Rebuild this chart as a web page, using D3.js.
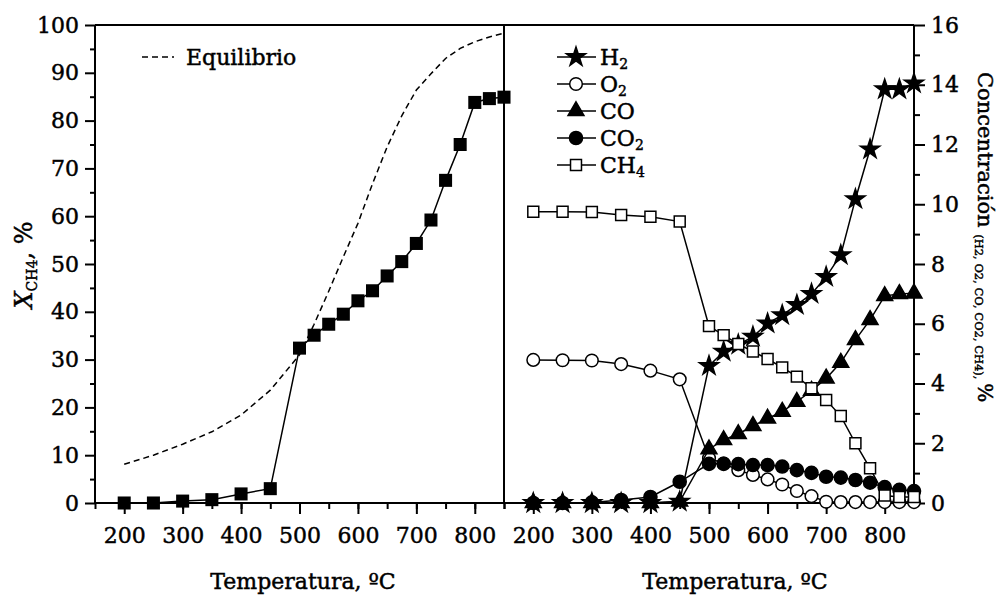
<!DOCTYPE html>
<html>
<head>
<meta charset="utf-8">
<script src="https://cdn.jsdelivr.net/npm/d3@7/dist/d3.min.js"></script>
<style>
  body { margin: 0; background: #fff; }
  svg text { font-family: "DejaVu Serif", serif; fill: #000; stroke: #000; stroke-width: 0.45px; }
</style>
</head>
<body>
<script>
// temperatures (same for both panels)
var temps = [200, 250, 300, 350, 400, 450, 500, 525, 550, 575, 600, 625, 650, 675, 700, 725, 750, 775, 800, 825, 850];

// left panel: CH4 conversion, %
var conversion = [0, 0, 0.4, 0.7, 1.9, 3.0, 32.4, 35.1, 37.4, 39.5, 42.3, 44.4, 47.5, 50.5, 54.3, 59.2, 67.5, 75.0, 83.8, 84.6, 84.9];

// equilibrium curve
var eqTemps = [200, 250, 300, 350, 400, 450, 500, 525, 550, 575, 600, 625, 650, 675, 700, 725, 750, 775, 800, 825, 850];
var eqConv = [8.1, 10.0, 12.3, 14.9, 18.4, 23.6, 31.0, 37.4, 44.3, 51.5, 58.5, 66.8, 74.5, 81.0, 86.4, 89.8, 93.0, 95.1, 96.5, 97.5, 98.3];

// right panel: concentrations, %
var h2 = [0, 0, 0, 0, 0, 0.05, 4.59, 5.07, 5.3, 5.57, 6.01, 6.29, 6.63, 7.0, 7.57, 8.30, 10.17, 11.84, 13.85, 13.85, 14.05];
var o2 = [4.79, 4.78, 4.77, 4.65, 4.43, 4.14, 1.50, 1.32, 1.10, 0.94, 0.79, 0.62, 0.40, 0.23, 0.04, 0.03, 0.03, 0.03, 0.03, 0.03, 0.03];
var co = [0, 0, 0, 0, 0, 0.05, 1.80, 2.11, 2.31, 2.58, 2.83, 3.06, 3.39, 3.76, 4.17, 4.70, 5.46, 6.13, 6.93, 7.0, 7.02];
var co2 = [0, 0, 0.02, 0.1, 0.2, 0.71, 1.31, 1.31, 1.30, 1.27, 1.27, 1.22, 1.10, 1.01, 0.88, 0.85, 0.77, 0.68, 0.53, 0.44, 0.40];
var ch4 = [9.75, 9.75, 9.74, 9.64, 9.58, 9.42, 5.92, 5.62, 5.32, 5.07, 4.82, 4.54, 4.23, 3.84, 3.45, 2.91, 2.0, 1.16, 0.25, 0.2, 0.2];

// tick labels
var xTickLabels = [200, 300, 400, 500, 600, 700, 800];
var yLeftTicks = [0, 10, 20, 30, 40, 50, 60, 70, 80, 90, 100];
var yRightTicks = [0, 2, 4, 6, 8, 10, 12, 14, 16];

var width = 998, height = 595;
var pTop = 25, pBottom = 503, pLeft = 95, pMid = 504, pRight = 914;

var svg = d3.select("body").append("svg")
    .attr("width", width)
    .attr("height", height);

// scales
var xL = d3.scaleLinear().domain([150, 850]).range([pLeft, pMid]);
var xR = d3.scaleLinear().domain([150, 850]).range([pMid, pRight]);
var yL = d3.scaleLinear().domain([0, 100]).range([pBottom, pTop]);
var yR = d3.scaleLinear().domain([0, 16]).range([pBottom, pTop]);

var minorX = d3.range(150, 851, 50);

function styleAxis(g) {
    g.select(".domain").remove();
    g.selectAll(".tick line").attr("stroke", "#000").attr("stroke-width", 2);
    g.selectAll(".tick text").style("font-size", "22px").style("font-family", "DejaVu Serif, serif");
}

// bottom axes, minor + major
[xL, xR].forEach(function(x) {
    svg.append("g").attr("transform", "translate(0," + pBottom + ")")
        .call(d3.axisBottom(x).tickValues(minorX).tickSize(6).tickFormat(""))
        .call(styleAxis);
    svg.append("g").attr("transform", "translate(0," + pBottom + ")")
        .call(d3.axisBottom(x).tickValues(xTickLabels).tickSize(11).tickPadding(13))
        .call(styleAxis);
});

// left y axis
svg.append("g").attr("transform", "translate(" + pLeft + ",0)")
    .call(d3.axisLeft(yL).tickValues(d3.range(5, 100, 10)).tickSize(5).tickFormat(""))
    .call(styleAxis);
svg.append("g").attr("transform", "translate(" + pLeft + ",0)")
    .call(d3.axisLeft(yL).tickValues(yLeftTicks).tickSize(10).tickPadding(6))
    .call(styleAxis);

// right y axis
svg.append("g").attr("transform", "translate(" + pRight + ",0)")
    .call(d3.axisRight(yR).tickValues(d3.range(1, 16, 2)).tickSize(6).tickFormat(""))
    .call(styleAxis);
svg.append("g").attr("transform", "translate(" + pRight + ",0)")
    .call(d3.axisRight(yR).tickValues(yRightTicks).tickSize(11).tickPadding(6))
    .call(styleAxis);

// frame lines
var frame = svg.append("g").attr("stroke", "#000").attr("stroke-width", 2);
frame.append("line").attr("x1", pLeft).attr("x2", pRight).attr("y1", pTop).attr("y2", pTop);
frame.append("line").attr("x1", pLeft - 1).attr("x2", pRight + 1).attr("y1", pBottom).attr("y2", pBottom);
frame.append("line").attr("x1", pLeft).attr("x2", pLeft).attr("y1", pTop).attr("y2", pBottom);
frame.append("line").attr("x1", pRight).attr("x2", pRight).attr("y1", pTop).attr("y2", pBottom);
frame.append("line").attr("x1", pMid).attr("x2", pMid).attr("y1", pTop).attr("y2", pBottom);

// left panel
var eqLine = d3.line().x(function(d, i) { return xL(eqTemps[i]); }).y(function(d) { return yL(d); });
svg.append("path").attr("d", eqLine(eqConv))
    .attr("fill", "none").attr("stroke", "#000").attr("stroke-width", 1.5)
    .attr("stroke-dasharray", "6,4");

var convLine = d3.line().x(function(d, i) { return xL(temps[i]); }).y(function(d) { return yL(d); });
svg.append("path").attr("d", convLine(conversion))
    .attr("fill", "none").attr("stroke", "#000").attr("stroke-width", 1.5);

svg.append("g").selectAll("path").data(conversion).enter().append("path")
    .attr("transform", function(d, i) { return "translate(" + xL(temps[i]) + "," + yL(d) + ")"; })
    .attr("d", d3.symbol().type(d3.symbolSquare).size(170))
    .attr("fill", "#000");

// right panel series
var series = [
    {name: "H", sub: "2", values: h2, type: d3.symbolStar, size: 115, fill: "#000"},
    {name: "O", sub: "2", values: o2, type: d3.symbolCircle, size: 125, fill: "#fff"},
    {name: "CO", sub: "", values: co, type: d3.symbolTriangle, size: 110, fill: "#000"},
    {name: "CO", sub: "2", values: co2, type: d3.symbolCircle, size: 135, fill: "#000"},
    {name: "CH", sub: "4", values: ch4, type: d3.symbolSquare, size: 120, fill: "#fff"}
];

var rLine = d3.line().x(function(d, i) { return xR(temps[i]); }).y(function(d) { return yR(d); });

series.forEach(function(s) {
    var g = svg.append("g");
    g.append("path").attr("d", rLine(s.values))
        .attr("fill", "none").attr("stroke", "#000").attr("stroke-width", 1.5);
    g.selectAll(".m").data(s.values).enter().append("path")
        .attr("class", "m")
        .attr("transform", function(d, i) { return "translate(" + xR(temps[i]) + "," + yR(d) + ")"; })
        .attr("d", d3.symbol().type(s.type).size(s.size))
        .attr("fill", s.fill).attr("stroke", "#000").attr("stroke-width", 1.5);
});

// legend right
var leg = svg.append("g");
series.forEach(function(s, i) {
    var cy = 57 + i * 27;
    leg.append("line").attr("x1", 557).attr("x2", 596).attr("y1", cy).attr("y2", cy)
        .attr("stroke", "#000").attr("stroke-width", 1.5);
    leg.append("path").attr("transform", "translate(576," + cy + ")")
        .attr("d", d3.symbol().type(s.type).size(s.size))
        .attr("fill", s.fill).attr("stroke", "#000").attr("stroke-width", 1.5);
    var t = leg.append("text").attr("x", 600).attr("y", cy + 8).style("font-size", "22px").text(s.name);
    if (s.sub) t.append("tspan").attr("dy", 4).style("font-size", "14px").text(s.sub);
});

// legend left
svg.append("line").attr("x1", 142).attr("x2", 174).attr("y1", 57).attr("y2", 57)
    .attr("stroke", "#000").attr("stroke-width", 1.5).attr("stroke-dasharray", "6,4");
svg.append("text").attr("x", 186).attr("y", 65).style("font-size", "22px").text("Equilibrio");

// axis titles
svg.append("text").attr("x", 303).attr("y", 589).attr("text-anchor", "middle")
    .style("font-size", "22px").text("Temperatura, ºC");
svg.append("text").attr("x", 735).attr("y", 589).attr("text-anchor", "middle")
    .style("font-size", "22px").text("Temperatura, ºC");

var yl = svg.append("text").attr("transform", "translate(32,265) rotate(-90)")
    .attr("text-anchor", "middle").style("font-size", "24px");
yl.append("tspan").style("font-style", "italic").text("X");
yl.append("tspan").attr("dy", 5).style("font-size", "14px").text("CH4");
yl.append("tspan").attr("dy", -5).text(", %");

var yr = svg.append("text").attr("transform", "translate(978,72) rotate(90)")
    .style("font-size", "21px");
yr.append("tspan").text("Concentración ");
yr.append("tspan").style("font-size", "11.5px").attr("dy", 3).text("(H2, O2, CO, CO2, CH4), ");
yr.append("tspan").style("font-size", "20px").attr("dy", -3).text("%");
</script>
</body>
</html>
